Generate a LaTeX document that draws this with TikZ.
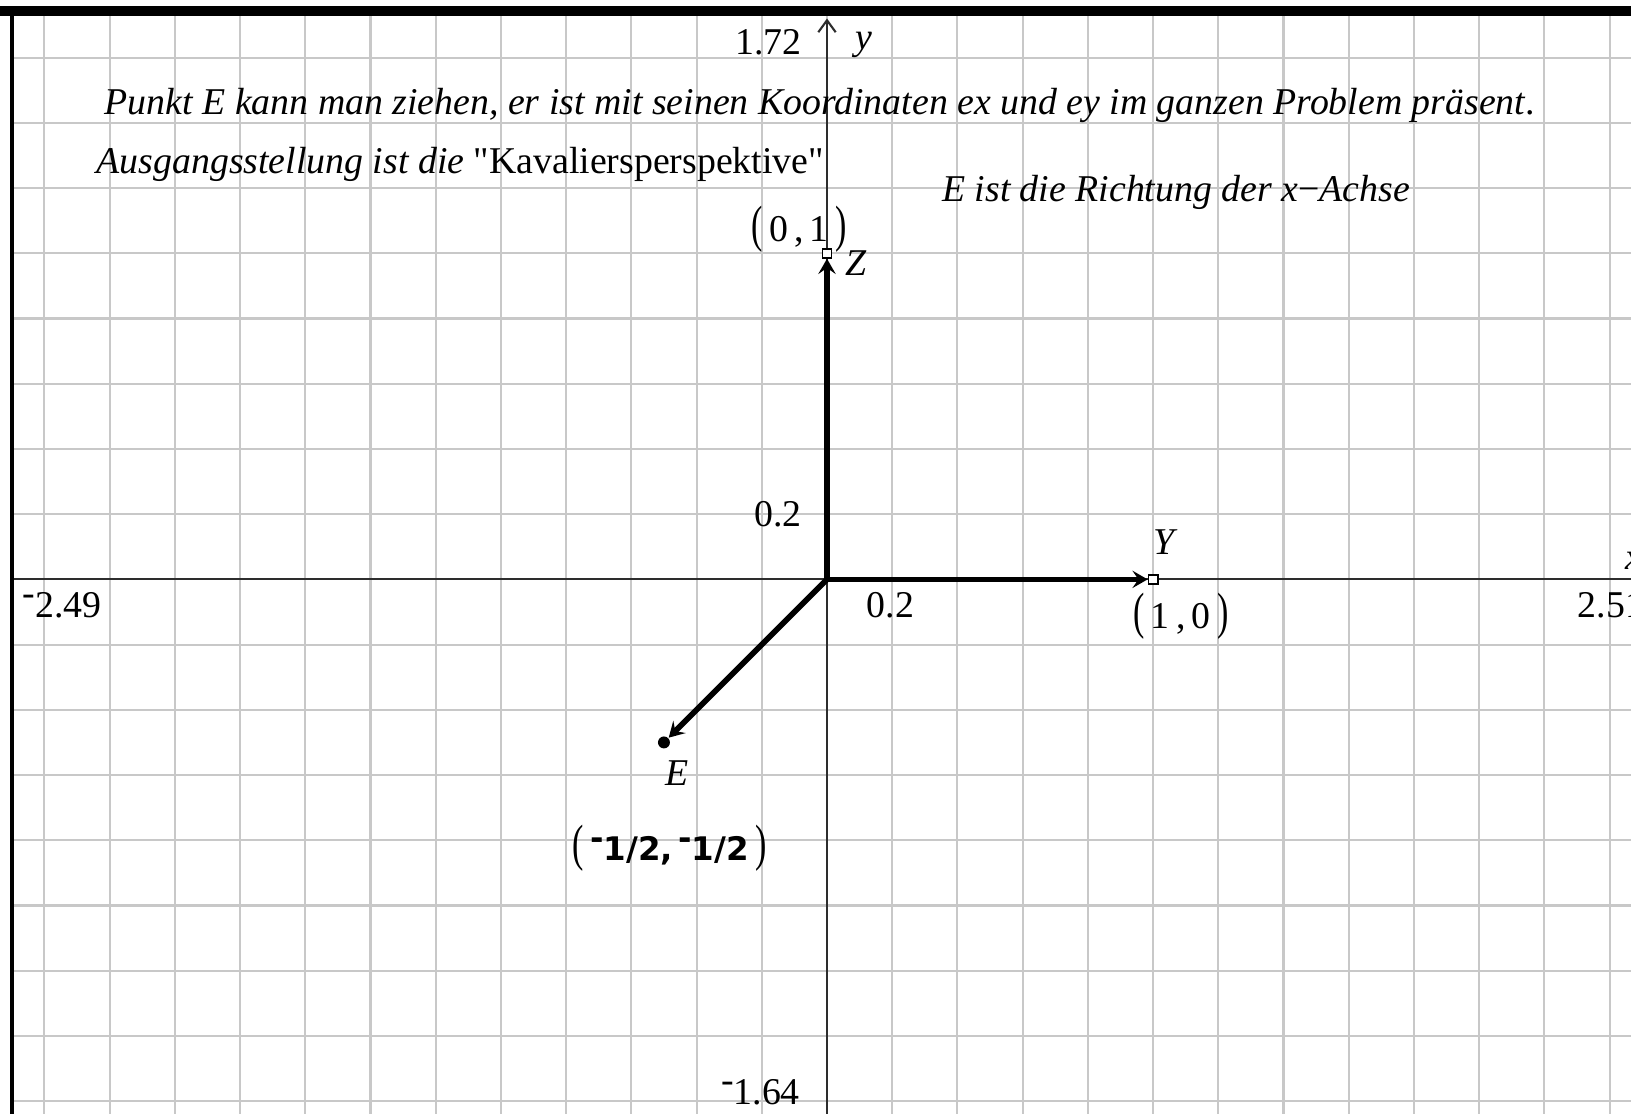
\documentclass[tikz,border=0pt]{standalone}
\usepackage{fontspec}
\setmainfont{Liberation Serif}
\newfontfamily\rawserif{Liberation Serif}[Ligatures=TeXOff]
\newfontfamily\lblsans{DejaVu Sans}
\usetikzlibrary{arrows.meta}
\definecolor{gridgray}{RGB}{200,200,200}
\definecolor{axisgray}{RGB}{45,45,45}
\newcommand\supmin{\raisebox{0.33em}{-}}
\newcommand\tallL{\scalebox{0.9}[1.35]{(}}
\newcommand\tallR{\scalebox{0.9}[1.35]{)}}
\newcommand\dq{{\rawserif "}}
\begin{document}
\begin{tikzpicture}[x=3cm,y=3cm,
  gridline/.style={draw=gridgray, line width=0.55pt},
  axisline/.style={draw=axisgray, line width=0.55pt},
  vecline/.style={line width=1.5pt, line cap=round, -{Stealth[length=1.4mm,width=1.6mm,inset=0.55mm]}},
  lbl/.style={inner sep=0pt, font=\fontsize{9.9}{12}\selectfont},
  sqmark/.style={draw=black, fill=white, rectangle, line width=0.45pt, minimum size=0.85mm, inner sep=0pt},
  dotmark/.style={fill=black, circle, minimum size=1.1mm, inner sep=0pt}]
\useasboundingbox (-2.536,-1.6394) rectangle (2.4655,1.7767);
\begin{scope}
\clip (-2.536,-1.6394) rectangle (2.4655,1.7767);
\fill[white] (-2.536,-1.6394) rectangle (2.4655,1.7767);
% grid
\foreach \i in {-12,...,12} \draw[gridline] ({\i*0.2},-1.7) -- ({\i*0.2},1.73);
\foreach \j in {-8,...,8} \draw[gridline] (-2.5,{\j*0.2}) -- (2.5,{\j*0.2});
% frame
\fill[black] (-2.536,1.728) rectangle (2.4655,1.758);
\fill[black] (-2.506,-1.65) rectangle (-2.494,1.758);
% axes
\coordinate (xl) at (-2.494,0);
\coordinate (xr) at (2.51,0);
\coordinate (yb) at (0,-1.65);
\coordinate (yt) at (0,1.72);
\draw[axisline] (xl) -- (xr);
\draw[axisline, -{Straight Barb[length=1.1mm,width=1.6mm]}] (yb) -- (yt);
% vectors
\coordinate (O) at (0,0);
\node[sqmark] (Z) at (0,1) {};
\node[sqmark] (Y) at (1,0) {};
\node[dotmark] (E) at (-0.5,-0.5) {};
\draw[vecline] (O) -- (Z);
\draw[vecline] (O) -- (Y);
\draw[vecline] (O) -- (E);
\fill (O) circle (0.7pt);
% texts
\node[lbl, anchor=base west] (t1) at (-2.217,1.426) {\itshape Punkt E kann man ziehen, er ist mit seinen Koordinaten ex und ey im ganzen Problem präsent\upshape.};
\node[lbl, anchor=base west] (t2) at (-2.242,1.244) {\itshape Ausgangsstellung ist die\upshape{} \dq Kavaliersperspektive\dq};
\node[lbl, anchor=base west] (t3) at (0.351,1.158) {\itshape E ist die Richtung der x\upshape{}−\itshape Achse};
\node[lbl, anchor=base] (ymax) at (-0.179,1.611) {1.72};
\node[lbl, anchor=base west] (ylab) at (0.086,1.624) {\itshape y};
\node[lbl, anchor=base] (ymin) at (-0.204,-1.611) {\supmin1.64};
\node[lbl, anchor=base west] (xmin) at (-2.469,-0.118) {\supmin2.49};
\node[lbl, anchor=base west] (xmax) at (2.300,-0.118) {2.51};
\node[lbl, anchor=base west] (xlab) at (2.447,0.029) {\itshape x};
\node[lbl, anchor=base] (ys) at (-0.150,0.163) {0.2};
\node[lbl, anchor=base] (xs) at (0.195,-0.118) {0.2};
\node[lbl, anchor=base west] (zl) at (0.054,0.931) {\itshape Z};
\node[lbl, anchor=base west] (yl) at (0.998,0.077) {\itshape Y};
\node[lbl, anchor=base west] (el) at (-0.497,-0.631) {\itshape E};
\node[lbl] (zc) at (-0.086,1.075) {\tallL\,0\,,\,1\,\tallR};
\node[lbl] (yc) at (1.085,-0.112) {\tallL\,1\,,\,0\,\tallR};
\node[lbl] (ec) at (-0.483,-0.823) {\tallL\,{\lblsans\bfseries\fontsize{8.5}{10}\selectfont\supmin1/2,\,\supmin1/2}\,\tallR};
\end{scope}
\end{tikzpicture}
\end{document}
